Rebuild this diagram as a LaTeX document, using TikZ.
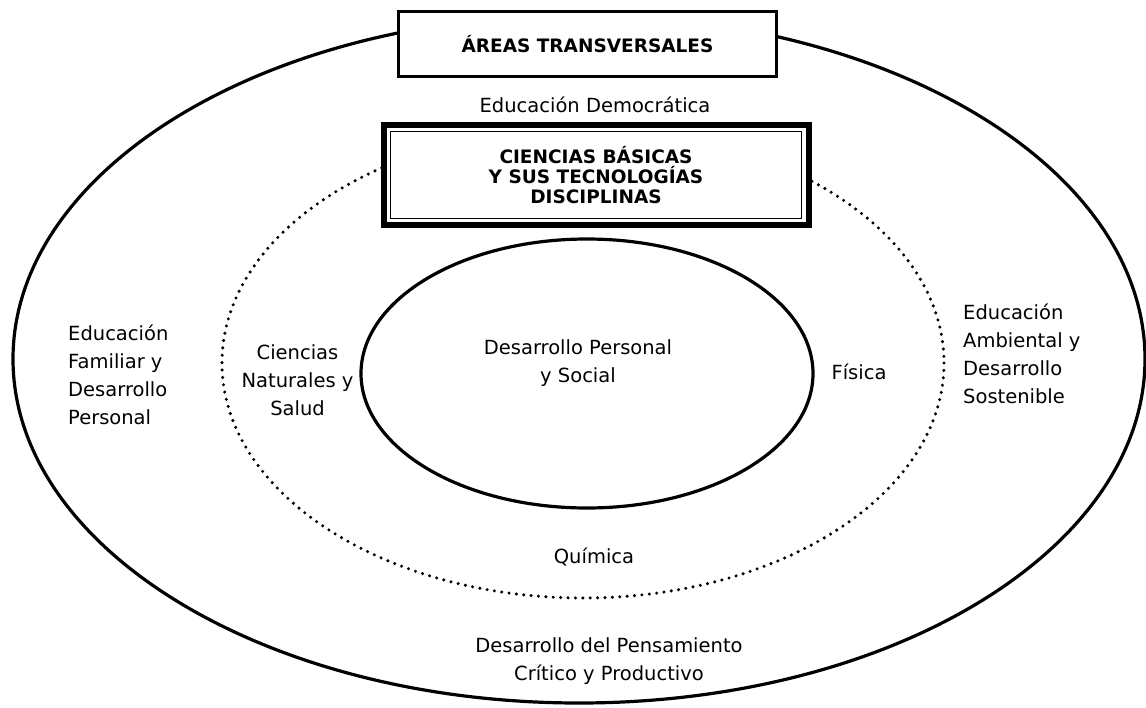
\documentclass[tikz,border=0pt]{standalone}
\usepackage{fontspec}
\setmainfont{DejaVu Sans}

\begin{document}
\begin{tikzpicture}[x=1pt, y=-1pt,
        ring/.style={line width=3.2pt},
        dotring/.style={line width=3.4pt, line cap=round, dash pattern=on 0pt off 7.4pt},
        area/.style={font=\fontsize{19.5}{28}\selectfont, inner sep=0pt},
        titlebox/.style={draw, fill=white, outer sep=0pt, inner sep=0pt, align=center,
            font=\bfseries\fontsize{18.5}{20}\selectfont}]
            % Define the frame of the picture
            \useasboundingbox (0,0) rectangle (1146,707);

            % Draw the three rings, outside to inside
            \draw[ring] (579,359) ellipse [x radius=566, y radius=344];
            \draw[dotring] (583,363) ellipse [x radius=361, y radius=235];
            \draw[ring] (587,373.5) ellipse [x radius=226, y radius=134.5];

            % Title boxes over the rings
            \node[titlebox, line width=3pt, minimum width=378, minimum height=65] (transv) at (587.5,44) {ÁREAS TRANSVERSALES};
            \node[titlebox, line width=6pt, minimum width=425, minimum height=100] (basicas) at (596,175) {CIENCIAS BÁSICAS\\Y SUS TECNOLOGÍAS\\DISCIPLINAS};
            \draw[line width=1.5pt] ([xshift=7pt,yshift=-6.5pt]basicas.north west) rectangle ([xshift=-7pt,yshift=6.5pt]basicas.south east);

            % Labels of the areas
            \node[area] (democ) at (595,105) {Educación Democrática};
            \node[area, anchor=west, align=left] (familiar) at (68,374.5) {Educación\\Familiar y\\Desarrollo\\Personal};
            \node[area, align=center] (naturales) at (297.5,380) {Ciencias\\Naturales y\\Salud};
            \node[area, align=center] (personal) at (578,363) {Desarrollo Personal\\y Social};
            \node[area] (fisica) at (859,372) {Física};
            \node[area, anchor=west, align=left] (ambiental) at (963,353.5) {Educación\\Ambiental y\\Desarrollo\\Sostenible};
            \node[area] (quimica) at (594,557) {Química};
            \node[area, align=center] (critico) at (609,661) {Desarrollo del Pensamiento\\Crítico y Productivo};
        \end{tikzpicture}
\end{document}
